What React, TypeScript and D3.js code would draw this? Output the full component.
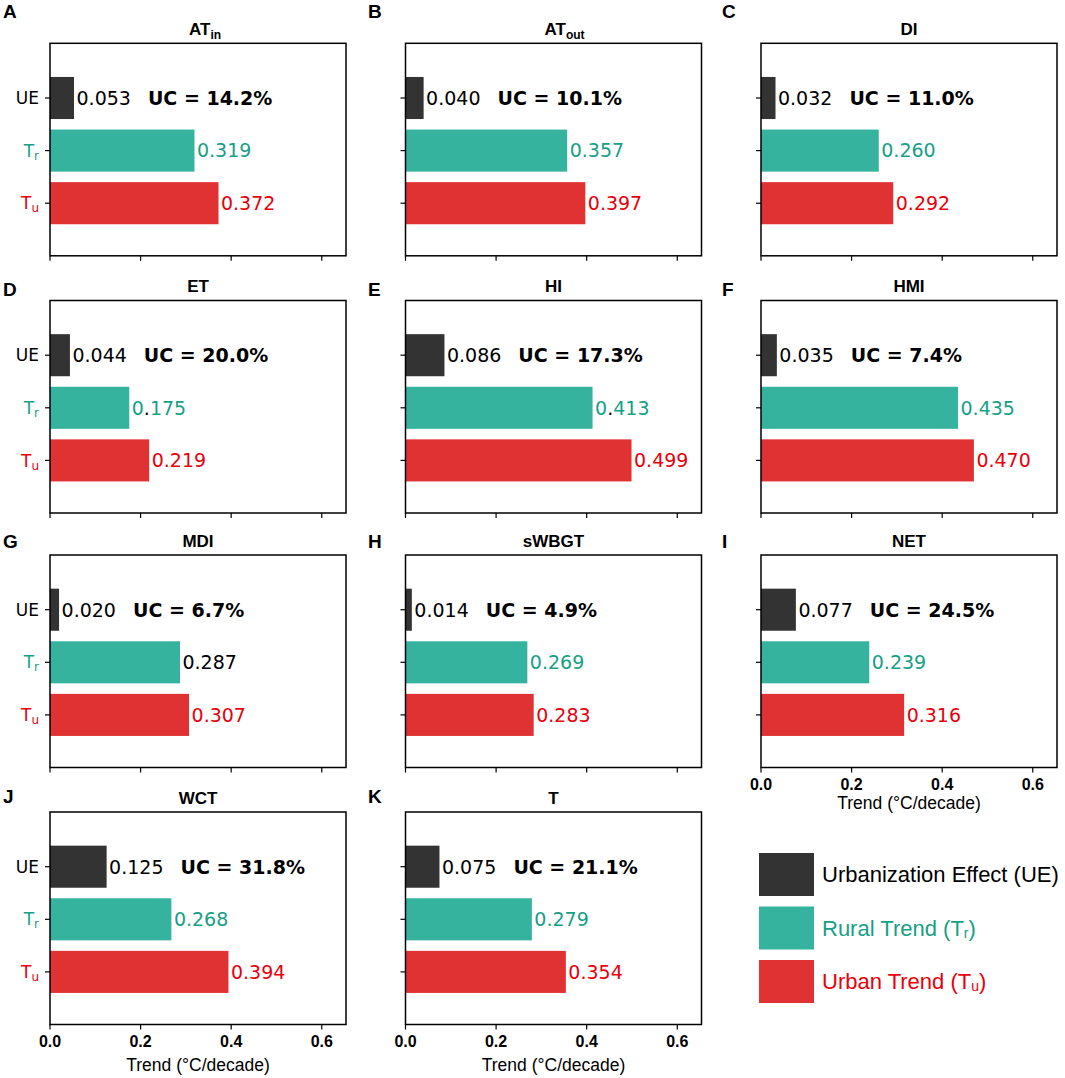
import React from "react";
import * as d3 from "d3";

// ---- data ----
const panelLetters = ["A", "B", "C", "D", "E", "F", "G", "H", "I", "J", "K"];
const titleMain = ["AT", "AT", "DI", "ET", "HI", "HMI", "MDI", "sWBGT", "NET", "WCT", "T"];
const titleSub = ["in", "out", "", "", "", "", "", "", "", "", ""];
const ueValues = [0.053, 0.04, 0.032, 0.044, 0.086, 0.035, 0.02, 0.014, 0.077, 0.125, 0.075];
const ruralValues = [0.319, 0.357, 0.26, 0.175, 0.413, 0.435, 0.287, 0.269, 0.239, 0.268, 0.279];
const urbanValues = [0.372, 0.397, 0.292, 0.219, 0.499, 0.47, 0.307, 0.283, 0.316, 0.394, 0.354];
const ucValues = [14.2, 10.1, 11.0, 20.0, 17.3, 7.4, 6.7, 4.9, 24.5, 31.8, 21.1];
const categories = ["UE", "Tr", "Tu"];
const xTicks = [0, 0.2, 0.4, 0.6];
const legendLabels = ["Urbanization Effect (UE)", "Rural Trend (T", "Urban Trend (T"];
const legendSubs = ["", "r", "u"];

// ---- style ----
const barColors = ["#333333", "#36b39f", "#e03133"];
const textColors = ["#000000", "#16a085", "#e8000b"];
const colLeft = [50, 405.5, 761];
const rowTop = [43.3, 300.5, 555, 812];
const letterBase = [18, 296, 548, 803];
const letterX = [3, 368, 722];
const W = 296;
const H = 212.5;
const SANS = "'Liberation Sans', Arial, sans-serif";
const DEJAVU = "'DejaVu Sans', sans-serif";
// label quirks from the original figure
const dotBlackPanels = new Set([3, 4]);
const trBlackPanels = new Set([6]);
const tickLabelPanels = new Set([8, 9, 10]);
const yLabelCols = new Set([0]);

const x = d3.scaleLinear().domain([0, 0.6535]).range([0, W]);
const y = d3.scaleLinear().domain([-1.04, 3.0]).range([0, H]);
const barH = y(0.8) - y(0);

function Panel({ i }: { i: number }) {
  const col = i % 3;
  const row = Math.floor(i / 3);
  const left = colLeft[col];
  const top = rowTop[row];
  const vals = [ueValues[i], ruralValues[i], urbanValues[i]];
  const valueFont = 19;
  const xlabelBase = i === 8 ? 41.5 : 46.5;
  return (
    <g transform={`translate(${left},${top})`}>
      {/* bars */}
      {vals.map((v, k) => (
        <rect key={k} x={x(0)} y={y(k) - barH / 2} width={x(v) - x(0)} height={barH} fill={barColors[k]} />
      ))}
      {/* value labels */}
      {vals.map((v, k) => {
        const s = v.toFixed(3);
        let color = textColors[k];
        if (k === 1 && trBlackPanels.has(i)) color = "#000";
        const dotBlack = k === 1 && dotBlackPanels.has(i);
        return (
          <text key={k} x={x(v) + 2.5} y={y(k)} dy="0.36em" fontFamily={DEJAVU} fontSize={valueFont} fill={color}>
            {dotBlack ? (
              <>
                <tspan>{s[0]}</tspan>
                <tspan fill="#000">.</tspan>
                <tspan>{s.slice(2)}</tspan>
              </>
            ) : (
              <tspan>{s}</tspan>
            )}
            {k === 0 && (
              <tspan dx={17} fontWeight="bold" fill="#000">{`UC = ${ucValues[i].toFixed(1)}%`}</tspan>
            )}
          </text>
        );
      })}
      {/* frame */}
      <rect x={0} y={0} width={W} height={H} fill="none" stroke="#000" strokeWidth={1.5} />
      {/* y ticks */}
      {categories.map((c, k) => (
        <line key={c} x1={-5} x2={0} y1={y(k)} y2={y(k)} stroke="#000" strokeWidth={1.2} />
      ))}
      {yLabelCols.has(col) &&
        categories.map((c, k) => (
          <text key={c} x={-11} y={y(k)} dy="0.36em" textAnchor="end" fontFamily={DEJAVU} fontSize={17} fill={textColors[k]}>
            {c === "UE" ? (
              c
            ) : (
              <>
                <tspan>{c[0]}</tspan>
                <tspan fontSize={12} dy={3}>{c[1]}</tspan>
              </>
            )}
          </text>
        ))}
      {/* x ticks */}
      {xTicks.map((t) => (
        <line key={t} x1={x(t)} x2={x(t)} y1={H} y2={H + 5} stroke="#000" strokeWidth={1.2} />
      ))}
      {tickLabelPanels.has(i) &&
        xTicks.map((t) => (
          <text key={t} x={x(t)} y={H + 22} textAnchor="middle" fontFamily={SANS} fontWeight="bold" fontSize={16} fill="#000">
            {d3.format(".1f")(t)}
          </text>
        ))}
      {tickLabelPanels.has(i) && (
        <text x={W / 2} y={H + xlabelBase} textAnchor="middle" fontFamily={SANS} fontSize={17.5} fill="#000">
          Trend (°C/decade)
        </text>
      )}
      {/* title */}
      {titleSub[i] ? (
        <text x={139} y={-8.5} fontFamily={SANS} fontWeight="bold" fontSize={17} fill="#000">
          <tspan>{titleMain[i]}</tspan>
          <tspan fontSize={12} dy={4}>{titleSub[i]}</tspan>
        </text>
      ) : (
        <text x={W / 2} y={-8.5} textAnchor="middle" fontFamily={SANS} fontWeight="bold" fontSize={17} fill="#000">
          {titleMain[i]}
        </text>
      )}
    </g>
  );
}

export default function App() {
  const legendY = [853, 906.5, 960];
  return (
    <svg width={1065} height={1078} style={{ position: "absolute", left: 0, top: 0, background: "#fff" }}>
      <rect width={1065} height={1078} fill="#fff" />
      {panelLetters.map((l, i) => (
        <text
          key={l}
          x={letterX[i % 3]}
          y={letterBase[Math.floor(i / 3)]}
          fontFamily={SANS}
          fontWeight="bold"
          fontSize={19}
          fill="#000"
        >
          {l}
        </text>
      ))}
      {panelLetters.map((l, i) => (
        <Panel key={l} i={i} />
      ))}
      {/* legend */}
      {legendLabels.map((lab, k) => (
        <g key={k}>
          <rect x={759} y={legendY[k]} width={55} height={43} fill={barColors[k]} />
          <text x={822} y={legendY[k] + 21.5} dy="0.36em" fontFamily={SANS} fontSize={22} fill={textColors[k]}>
            <tspan>{lab}</tspan>
            {legendSubs[k] && (
              <>
                <tspan fontSize={14} dy={2}>{legendSubs[k]}</tspan>
                <tspan dy={-2}>)</tspan>
              </>
            )}
          </text>
        </g>
      ))}
    </svg>
  );
}
